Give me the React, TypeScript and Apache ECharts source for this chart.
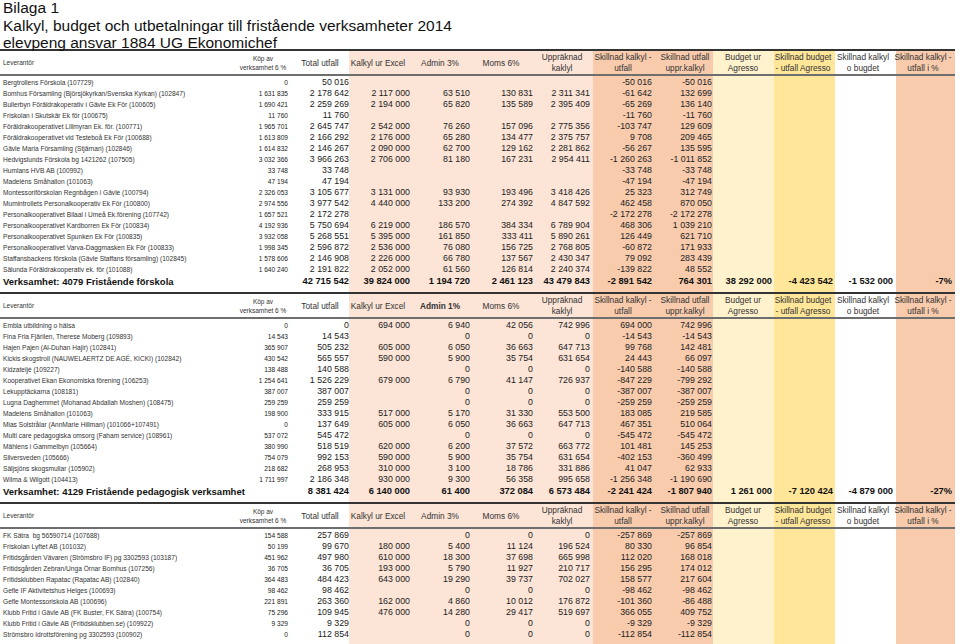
import React, { useEffect, useRef } from 'react';
import * as echarts from 'echarts';

const FONT = '"Liberation Sans", Arial, Helvetica, sans-serif';

const titleLines = [
  'Bilaga 1',
  'Kalkyl, budget och utbetalningar till fristående verksamheter 2014',
  'elevpeng ansvar 1884 UG Ekonomichef',
];

const headerLabels = [
  'Leverantör',
  'Köp av\nverksamhet 6 %',
  'Total utfall',
  'Kalkyl ur Excel',
  'Admin 3%',
  'Moms 6%',
  'Uppräknad\nkaklyl',
  'Skillnad kalkyl -\nutfall',
  'Skillnad utfall\nuppr.kalkyl',
  'Budget ur\nAgresso',
  'Skillnad budget\n- utfall Agresso',
  'Skillnad kalkyl\no bugdet',
  'Skillnad kalkyl -\nutfall i %',
];
const adminLabels = ['Admin 3%', 'Admin 1%', 'Admin 3%'];

// ---------- Section 1: 4079 Fristående förskola ----------
const names1 = [
  'Bergtrollens Förskola (107729)',
  'Bomhus Församling (Björsjökyrkan/Svenska Kyrkan) (102847)',
  'Bullerbyn Föräldrakoperativ i Gävle Ek För (100605)',
  'Friskolan i Skutskär Ek för (100675)',
  'Föräldrakooperativet Lillmyran Ek. för. (100771)',
  'Föräldrakooperativet vid Testeboå Ek För (100688)',
  'Gävle Maria Församling (Stjärnan) (102846)',
  'Hedvigslunds Förskola bg 1421262 (107505)',
  'Humlans HVB AB (100992)',
  'Madeléns Småhallon (101063)',
  'Montessoriförskolan Regnbågen i Gävle (100794)',
  'Mumintrollets Personalkooperativ Ek För (100800)',
  'Personalkooperativet Bilaal i Umeå Ek.förening (107742)',
  'Personalkooperativet Kardborren Ek För (100834)',
  'Personalkooperativet Spunken Ek För (100835)',
  'Personalkooperativet Varva-Daggmasken Ek För (100833)',
  'Staffansbackens förskola (Gävle Staffans församling) (102845)',
  'Sälunda Föräldrakooperativ ek. för (101088)',
];
const kop1 = [0, 1631835, 1690421, 11760, 1965701, 1613809, 1614832, 3032366, 33748, 47194, 2326053, 2974556, 1657521, 4192936, 3932058, 1998345, 1578606, 1640240];
const total1 = [50016, 2178642, 2259269, 11760, 2645747, 2166292, 2146267, 3966263, 33748, 47194, 3105677, 3977542, 2172278, 5750694, 5268551, 2596872, 2146908, 2191822];
const kalkyl1 = [null, 2117000, 2194000, null, 2542000, 2176000, 2090000, 2706000, null, null, 3131000, 4440000, null, 6219000, 5395000, 2536000, 2226000, 2052000];
const admin1 = [null, 63510, 65820, null, 76260, 65280, 62700, 81180, null, null, 93930, 133200, null, 186570, 161850, 76080, 66780, 61560];
const moms1 = [null, 130831, 135589, null, 157096, 134477, 129162, 167231, null, null, 193496, 274392, null, 384334, 333411, 156725, 137567, 126814];
const uppr1 = [null, 2311341, 2395409, null, 2775356, 2375757, 2281862, 2954411, null, null, 3418426, 4847592, null, 6789904, 5890261, 2768805, 2430347, 2240374];
const diffKU1 = [-50016, -61642, -65269, -11760, -103747, 9708, -56267, -1260263, -33748, -47194, 25323, 462458, -2172278, 468306, 126449, -60872, 79092, -139822];
const diffUU1 = [-50016, 132699, 136140, -11760, 129609, 209465, 135595, -1011852, -33748, -47194, 312749, 870050, -2172278, 1039210, 621710, 171933, 283439, 48552];
const totalLabel1 = 'Verksamhet: 4079 Fristående förskola';
const sums1 = [42715542, 39824000, 1194720, 2461123, 43479843, -2891542, 764301, 38292000, -4423542, -1532000];
const pct1 = '-7%';

// ---------- Section 2: 4129 Fristående pedagogisk verksamhet ----------
const names2 = [
  'Embla utbildning o hälsa',
  'Fina Fria Fjärilen, Therese Moberg (109893)',
  'Hajen Pajen (Al-Duhan Hajir) (102841)',
  'Kickis skogstroll (NAUWELAERTZ DE AGÉ, KICKI) (102842)',
  'Kidzateljé (109227)',
  'Kooperativet Ekan Ekonomiska förening (106253)',
  'Lekupptäckarna (108181)',
  'Lugna Daghemmet (Mohanad Abdallah Moshen) (108475)',
  'Madeléns Småhallon (101063)',
  'Mias Solstrålar (AnnMarie Hillman) (101066+107491)',
  'Multi care pedagogiska omsorg (Faham service) (108961)',
  'Mählens i Gammelbyn (105664)',
  'Silversveden (105666)',
  'Säljsjöns skogsmullar (105902)',
  'Wilma & Wilgott (104413)',
];
const kop2 = [0, 14543, 365907, 430542, 138488, 1254641, 387007, 259259, 198900, 0, 537072, 380990, 754079, 218682, 1711997];
const total2 = [0, 14543, 505232, 565557, 140588, 1526229, 387007, 259259, 333915, 137649, 545472, 518519, 992153, 268953, 2186348];
const kalkyl2 = [694000, null, 605000, 590000, null, 679000, null, null, 517000, 605000, null, 620000, 590000, 310000, 930000];
const admin2 = [6940, 0, 6050, 5900, 0, 6790, 0, 0, 5170, 6050, 0, 6200, 5900, 3100, 9300];
const moms2 = [42056, 0, 36663, 35754, 0, 41147, 0, 0, 31330, 36663, 0, 37572, 35754, 18786, 56358];
const uppr2 = [742996, 0, 647713, 631654, 0, 726937, 0, 0, 553500, 647713, 0, 663772, 631654, 331886, 995658];
const diffKU2 = [694000, -14543, 99768, 24443, -140588, -847229, -387007, -259259, 183085, 467351, -545472, 101481, -402153, 41047, -1256348];
const diffUU2 = [742996, -14543, 142481, 66097, -140588, -799292, -387007, -259259, 219585, 510064, -545472, 145253, -360499, 62933, -1190690];
const totalLabel2 = 'Verksamhet: 4129 Fristående pedagogisk verksamhet';
const sums2 = [8381424, 6140000, 61400, 372084, 6573484, -2241424, -1807940, 1261000, -7120424, -4879000];
const pct2 = '-27%';

// ---------- Section 3: fritids ----------
const names3 = [
  'FK Sätra  bg 56590714 (107688)',
  'Friskolan Lyftet AB (101032)',
  'Fritidsgården Vävaren (Strömsbro IF) pg 3302593 (103187)',
  'Fritidsgården Zebran/Unga Örnar Bomhus (107256)',
  'Fritidsklubben Rapatac (Rapatac AB) (102840)',
  'Gefle IF Aktivitetshus Helges (100693)',
  'Gefle Montessoriskola AB (100696)',
  'Klubb Fritid i Gävle AB (FK Buster, FK Sätra) (100754)',
  'Klubb Fritid i Gävle AB (Fritidsklubben.se) (109922)',
  'Strömsbro Idrottsförening pg 3302593 (100902)',
];
const kop3 = [154588, 50199, 451962, 36705, 364483, 98462, 221891, 75296, 9329, 0];
const total3 = [257869, 99670, 497980, 36705, 484423, 98462, 263360, 109945, 9329, 112854];
const kalkyl3 = [null, 180000, 610000, 193000, 643000, null, 162000, 476000, null, null];
const admin3 = [0, 5400, 18300, 5790, 19290, 0, 4860, 14280, 0, 0];
const moms3 = [0, 11124, 37698, 11927, 39737, 0, 10012, 29417, 0, 0];
const uppr3 = [0, 196524, 665998, 210717, 702027, 0, 176872, 519697, 0, 0];
const diffKU3 = [-257869, 80330, 112020, 156295, 158577, -98462, -101360, 366055, -9329, -112854];
const diffUU3 = [-257869, 96854, 168018, 174012, 217604, -98462, -86488, 409752, -9329, -112854];

// ---------- layout ----------
const W = 960;
const H = 644;
const ROW = 11;
const HEAD_H = 25;
const NAME_X = 3;
const COL_RIGHT = [288, 349, 410, 470, 533, 590, 652, 712, 772, 833, 893, 952];
const HEAD_CENTER = [263, 320, 378, 440, 501, 562, 623, 685, 743, 803, 863, 923];
const SECTION_TOP = [50, 293, 503];
const TITLE_Y = [7.5, 25, 42.5];
const BANDS = [
  { x0: 349, x1: 593, color: '#FCE4D6' },
  { x0: 593, x1: 713, color: '#F8CBAD' },
  { x0: 713, x1: 774, color: '#FFF2CC' },
  { x0: 774, x1: 835, color: '#FFE699' },
  { x0: 896, x1: 955, color: '#F8CBAD' },
];

function fmt(v: number | null | undefined): string {
  if (v === null || v === undefined) return '';
  const neg = v < 0;
  const s = Math.abs(Math.round(v)).toString().replace(/\B(?=(\d{3})+(?!\d))/g, ' ');
  return (neg ? '-' : '') + s;
}

type Cell = { x: number; y: number; text: string; align: string; size: number; bold?: boolean; color?: string };

function buildCells(): Cell[] {
  const cells: Cell[] = [];
  titleLines.forEach((t, i) => cells.push({ x: 3, y: TITLE_Y[i], text: t, align: 'left', size: 15.5, color: '#111' }));

  const sections = [
    { names: names1, cols: [kop1, total1, kalkyl1, admin1, moms1, uppr1, diffKU1, diffUU1], label: totalLabel1, sums: sums1, pct: pct1 },
    { names: names2, cols: [kop2, total2, kalkyl2, admin2, moms2, uppr2, diffKU2, diffUU2], label: totalLabel2, sums: sums2, pct: pct2 },
    { names: names3, cols: [kop3, total3, kalkyl3, admin3, moms3, uppr3, diffKU3, diffUU3], label: null, sums: null, pct: null },
  ];

  sections.forEach((sec, si) => {
    const top = SECTION_TOP[si];
    const hc = top + HEAD_H / 2;
    cells.push({ x: NAME_X, y: hc, text: headerLabels[0], align: 'left', size: 6.5, color: '#333' });
    headerLabels.slice(1).forEach((lab, ci) => {
      const text = ci === 3 ? adminLabels[si] : lab;
      const bold = ci === 3 && si === 1;
      const lines = text.split('\n');
      const small = ci === 0;
      const size = small ? 6.5 : 8.3;
      const gap = small ? 9 : 10.5;
      lines.forEach((ln, li) => {
        const y = lines.length === 1 ? hc : hc + (li - 0.5) * gap;
        cells.push({ x: HEAD_CENTER[ci], y, text: ln, align: 'center', size, bold, color: '#333' });
      });
    });
    const r0 = top + HEAD_H + 7;
    sec.names.forEach((nm, ri) => {
      const y = r0 + ri * ROW;
      cells.push({ x: NAME_X, y, text: nm, align: 'left', size: 6.6, color: '#333' });
      sec.cols.forEach((arr, ci) => {
        const t = fmt(arr[ri] as number | null);
        if (t !== '') cells.push({ x: COL_RIGHT[ci], y, text: t, align: 'right', size: ci === 0 ? 6.6 : 8.8, color: '#222' });
      });
    });
    if (sec.label) {
      const y = r0 + sec.names.length * ROW + 1;
      cells.push({ x: NAME_X, y, text: sec.label, align: 'left', size: 9.5, bold: true, color: '#111' });
      (sec.sums as number[]).forEach((v, i) => {
        cells.push({ x: COL_RIGHT[i + 1], y, text: fmt(v), align: 'right', size: 9.3, bold: true, color: '#111' });
      });
      cells.push({ x: COL_RIGHT[11], y, text: sec.pct as string, align: 'right', size: 9.3, bold: true, color: '#111' });
    }
  });
  return cells;
}

type Seg = { x0: number; y0: number; x1: number; y1: number; color: string; width: number };
function buildLines(): Seg[] {
  const segs: Seg[] = [];
  SECTION_TOP.forEach((top) => {
    segs.push({ x0: 0, y0: top, x1: 955, y1: top, color: '#333', width: 1.8 });
    segs.push({ x0: 0, y0: top + HEAD_H, x1: 955, y1: top + HEAD_H, color: '#6e6e6e', width: 2.2 });
  });
  return segs;
}

export default function App() {
  const ref = useRef<HTMLDivElement>(null);
  useEffect(() => {
    document.body.style.margin = '0';
    if (!ref.current) return;
    const chart = echarts.init(ref.current, undefined, { renderer: 'svg' });
    const cells = buildCells();
    const segs = buildLines();
    const bandTop = SECTION_TOP[0];
    chart.setOption({
      animation: false,
      backgroundColor: '#ffffff',
      grid: { left: 0, right: 0, top: 0, bottom: 0 },
      xAxis: { type: 'value', min: 0, max: W, show: false },
      yAxis: { type: 'value', min: 0, max: H, inverse: true, show: false },
      series: [
        {
          type: 'custom',
          z: 1,
          silent: true,
          clip: false,
          data: BANDS.map((b) => [b.x0, bandTop, b.x1, H]),
          encode: { x: [0, 2], y: [1, 3] },
          renderItem: (params: any, api: any) => {
            const p0 = api.coord([api.value(0), api.value(1)]);
            const p1 = api.coord([api.value(2), api.value(3)]);
            return {
              type: 'rect',
              shape: { x: p0[0], y: p0[1], width: p1[0] - p0[0], height: p1[1] - p0[1] },
              style: { fill: BANDS[params.dataIndex].color },
            };
          },
        },
        {
          type: 'custom',
          z: 2,
          silent: true,
          clip: false,
          data: segs.map((s) => [s.x0, s.y0, s.x1, s.y1]),
          encode: { x: [0, 2], y: [1, 3] },
          renderItem: (params: any, api: any) => {
            const s = segs[params.dataIndex];
            const p0 = api.coord([api.value(0), api.value(1)]);
            const p1 = api.coord([api.value(2), api.value(3)]);
            return {
              type: 'line',
              shape: { x1: p0[0], y1: p0[1], x2: p1[0], y2: p1[1] },
              style: { stroke: s.color, lineWidth: s.width },
            };
          },
        },
        {
          type: 'custom',
          z: 3,
          silent: true,
          clip: false,
          data: cells.map((c) => [c.x, c.y]),
          encode: { x: 0, y: 1 },
          renderItem: (params: any, api: any) => {
            const c = cells[params.dataIndex];
            const p = api.coord([api.value(0), api.value(1)]);
            return {
              type: 'text',
              x: p[0],
              y: p[1],
              style: {
                text: c.text,
                fill: c.color || '#222',
                font: `${c.bold ? 'bold ' : ''}${c.size}px ${FONT}`,
                align: c.align,
                verticalAlign: 'middle',
              },
            };
          },
        },
      ],
    });
    return () => chart.dispose();
  }, []);
  return <div ref={ref} style={{ width: W, height: H }} />;
}
